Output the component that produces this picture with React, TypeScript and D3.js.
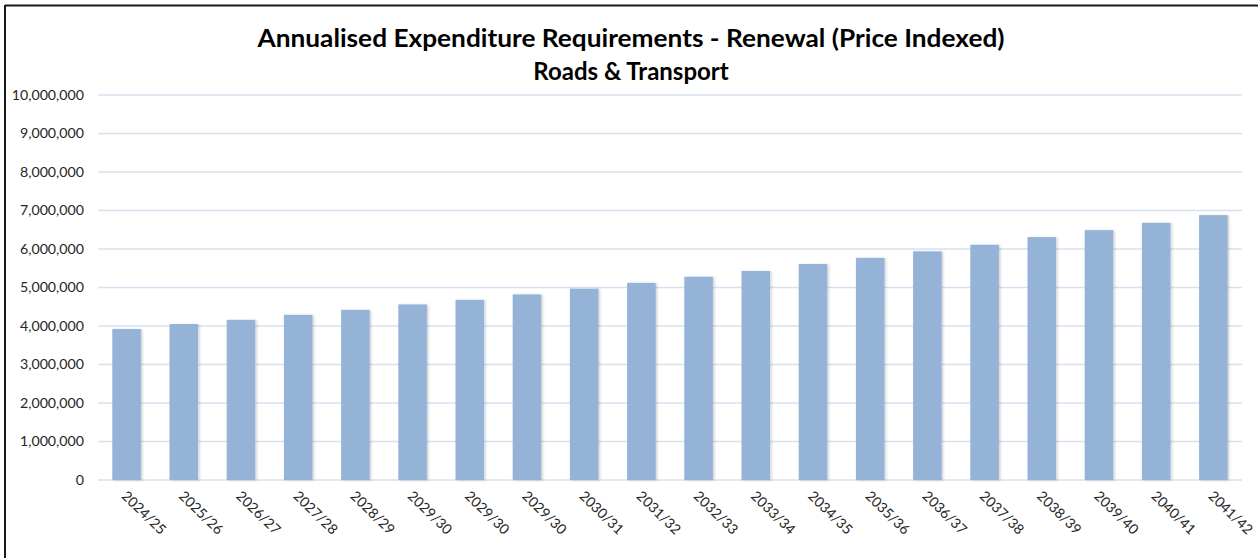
import React from "react";
import * as d3 from "d3";

const categories = [
  "2024/25", "2025/26", "2026/27", "2027/28", "2028/29", "2029/30", "2029/30", "2029/30",
  "2030/31", "2031/32", "2032/33", "2033/34", "2034/35", "2035/36", "2036/37", "2037/38",
  "2038/39", "2039/40", "2040/41", "2041/42",
];
const values = [
  3920000, 4050000, 4160000, 4290000, 4420000, 4560000, 4680000, 4820000, 4970000, 5120000,
  5280000, 5430000, 5610000, 5770000, 5940000, 6110000, 6310000, 6490000, 6680000, 6880000,
];
const yTicks = [0, 1000000, 2000000, 3000000, 4000000, 5000000, 6000000, 7000000, 8000000, 9000000, 10000000];
const titleLines = ["Annualised Expenditure Requirements - Renewal (Price Indexed)", "Roads & Transport"];

const W = 1258;
const H = 558;
const plot = { left: 98, right: 1242, top: 95, bottom: 480 };
const FONT = "Lato, 'Open Sans', sans-serif";

export default function App() {
  const x = d3.scaleBand<number>()
    .domain(d3.range(categories.length))
    .range([plot.left, plot.right])
    .paddingInner(0.5)
    .paddingOuter(0.25);
  const y = d3.scaleLinear().domain([0, 10000000]).range([plot.bottom, plot.top]);
  const fmt = d3.format(",");

  return (
    <svg
      width={W}
      height={H}
      style={{ position: "absolute", left: 0, top: 0, background: "#fff" }}
    >
      <defs>
        <filter id="sh" x="-20%" y="-5%" width="150%" height="110%">
          <feDropShadow dx="1.5" dy="0.5" stdDeviation="1" floodColor="#000" floodOpacity="0.18" />
        </filter>
      </defs>
      <rect x={0} y={0} width={W} height={H} fill="#fff" />
      <line x1={5} y1={5.5} x2={W} y2={5.5} stroke="#1a1a1a" strokeWidth={2} />
      <line x1={5} y1={5} x2={5} y2={H} stroke="#1a1a1a" strokeWidth={2} />

      {titleLines.map((t, i) => (
        <text
          key={i}
          x={631}
          y={47 + i * 33}
          textAnchor="middle"
          fontFamily={FONT}
          fontWeight="bold"
          fontSize={24}
          fill="#000"
          textLength={i === 0 ? 747 : undefined}
          lengthAdjust="spacingAndGlyphs"
        >
          {t}
        </text>
      ))}

      {yTicks.map((t) => (
        <g key={t}>
          <line
            x1={plot.left}
            x2={plot.right}
            y1={y(t)}
            y2={y(t)}
            stroke="#d6e2f0"
            strokeWidth={1.5}
          />
          <text
            x={84}
            y={y(t)}
            dy="0.35em"
            textAnchor="end"
            fontFamily={FONT}
            fontSize={14.2}
            fill="#262626"
          >
            {fmt(t)}
          </text>
        </g>
      ))}

      {values.map((v, i) => (
        <rect
          key={i}
          x={x(i)!}
          y={y(v)}
          width={x.bandwidth()}
          height={y(0) - y(v)}
          fill="#95b3d7"
          filter="url(#sh)"
        />
      ))}

      {categories.map((c, i) => {
        const cx = x(i)! + x.bandwidth() / 2;
        return (
          <text
            key={i}
            transform={`translate(${cx + 1},${490}) rotate(44)`}
            textAnchor="start"
            dy="0.7em"
            fontFamily={FONT}
            fontSize={14}
            fill="#262626"
          >
            {c}
          </text>
        );
      })}
    </svg>
  );
}
